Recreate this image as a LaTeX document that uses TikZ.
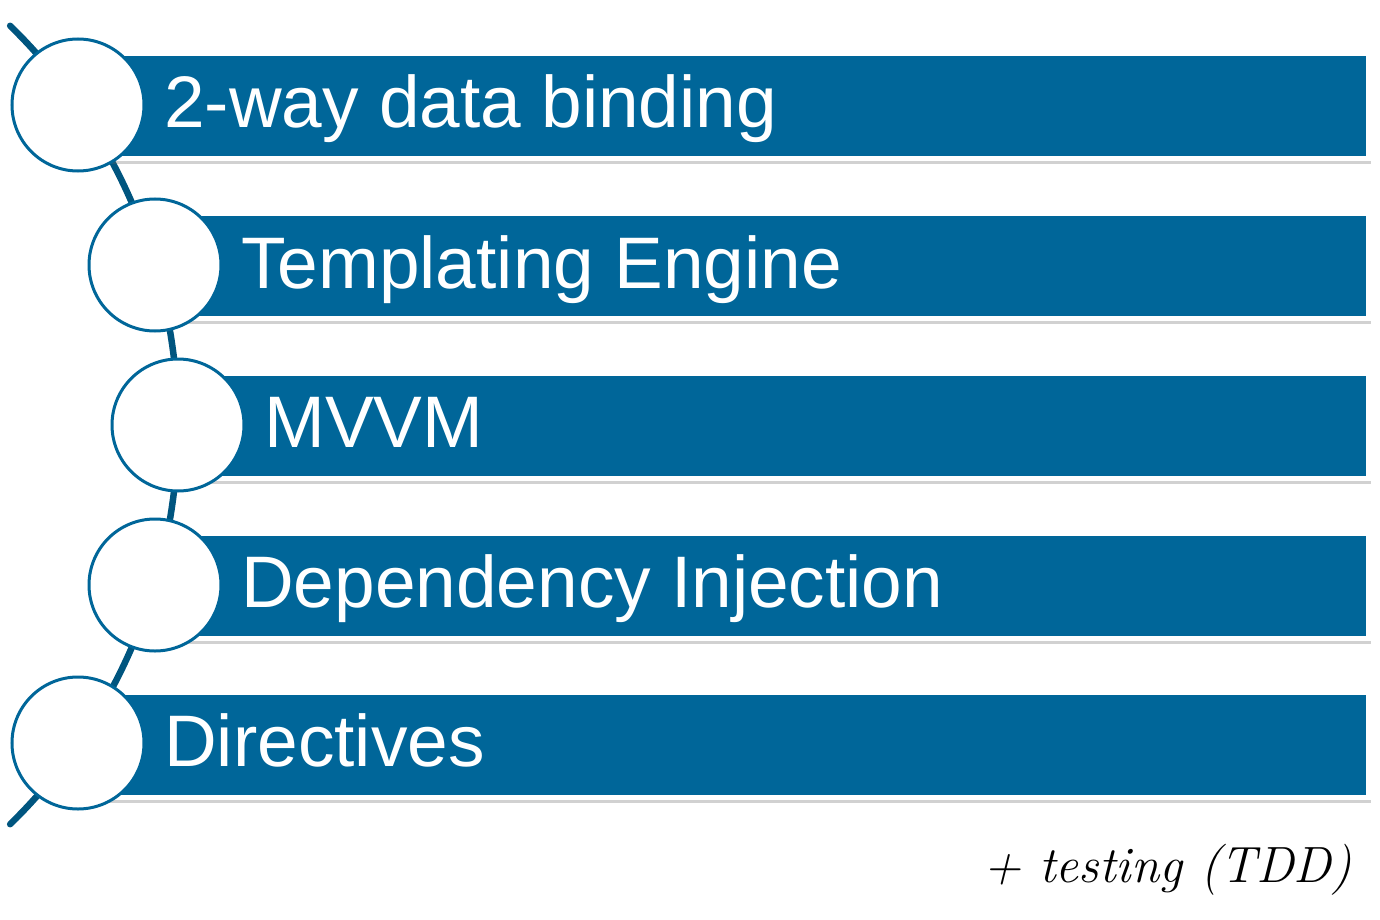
\documentclass[tikz,border=0pt]{standalone}
\usepackage{fontspec}
\setmainfont{Liberation Sans}
\newfontfamily\notefont{Latin Modern Roman}
\usetikzlibrary{shadows}
\definecolor{barblue}{HTML}{006699}
\definecolor{arcblue}{HTML}{00557F}
\tikzset{
  barbox/.style={rectangle, fill=barblue, draw=white, line width=5pt, outer sep=0pt,
    minimum height=105pt, minimum width=1290pt, inner sep=0pt, anchor=west,
    drop shadow={shadow xshift=2.5pt, shadow yshift=-5.5pt, opacity=0.3, fill=black!60}},
  stepcircle/.style={circle, fill=white, draw=barblue, line width=3pt, minimum size=132pt, inner sep=0pt},
  label/.style={text=white, anchor=base west, inner sep=0pt, font=\fontsize{73}{80}\selectfont},
  note/.style={anchor=base east, inner sep=0pt, font=\fontsize{51}{58}\selectfont\notefont\itshape}
}
\begin{document}
\begin{tikzpicture}[x=1pt,y=-1pt]
\useasboundingbox (0,0) rectangle (1380,920);
% spine arc linking the steps
\draw[arcblue, line width=6.5pt, line cap=round]
  plot[domain=-45.6:45.6, samples=80, smooth] ({-380.8+558.8*cos(\x)},{425+558.8*sin(\x)});
% bars
\node[barbox] (b1) at (78,106) {};
\node[barbox, minimum width=1213pt] (b2) at (155,266) {};
\node[barbox, minimum width=1190pt] (b3) at (178,425.5) {};
\node[barbox, minimum width=1213pt] (b4) at (155,585.5) {};
\node[barbox] (b5) at (78,744.5) {};
% circles
\node[stepcircle] (c1) at (78,105) {};
\node[stepcircle] (c2) at (155,265) {};
\node[stepcircle] (c3) at (178,425) {};
\node[stepcircle] (c4) at (155,585) {};
\node[stepcircle] (c5) at (78,743) {};
% labels
\node[label] (t1) at (164,128) {2-way data binding};
\node[label] (t2) at (241,288) {Templating Engine};
\node[label] (t3) at (264,447) {MVVM};
\node[label] (t4) at (241,607) {Dependency Injection};
\node[label] (t5) at (164,766) {Directives};
\node[note] (n) at (1352,882) {+ testing (TDD)};
\end{tikzpicture}
\end{document}
